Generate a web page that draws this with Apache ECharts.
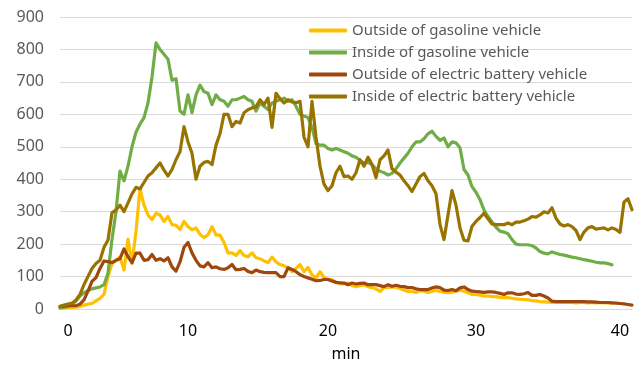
<!DOCTYPE html>
<html>
<head>
<meta charset="utf-8">
<script src="https://cdn.jsdelivr.net/npm/echarts@6/dist/echarts.min.js"></script>
<style>
  html, body { margin: 0; padding: 0; background: #ffffff; }
  #chart { width: 643px; height: 367px; }
</style>
</head>
<body>
<div id="chart"></div>
<script>
// Elapsed time of each logged sample (minutes)
const minutes = [
  -0.67,-0.33,0,0.33,0.67,1,1.33,1.67,2,2.33,2.67,3,
  3.33,3.67,4,4.33,4.67,5,5.33,5.67,6,6.33,6.67,7,
  7.33,7.67,8,8.33,8.67,9,9.33,9.67,10,10.29,10.57,10.86,
  11.14,11.43,11.71,12,12.29,12.57,12.86,13.14,13.43,13.71,14,14.29,
  14.57,14.86,15.14,15.43,15.71,16,16.29,16.57,16.86,17.14,17.43,17.71,
  18,18.29,18.57,18.86,19.14,19.43,19.71,20,20.27,20.54,20.81,21.08,
  21.35,21.62,21.89,22.16,22.43,22.7,22.97,23.24,23.51,23.78,24.05,24.32,
  24.59,24.86,25.14,25.41,25.68,25.95,26.22,26.49,26.76,27.03,27.3,27.57,
  27.84,28.11,28.38,28.65,28.92,29.19,29.46,29.73,30,30.28,30.56,30.83,
  31.11,31.39,31.67,31.94,32.22,32.5,32.78,33.06,33.33,33.61,33.89,34.17,
  34.44,34.72,35,35.28,35.56,35.83,36.11,36.39,36.67,36.94,37.22,37.5,
  37.78,38.06,38.33,38.61,38.89,39.17,39.44,39.72,40,40.28,40.56,40.83
];

const seriesNames = [
  'Outside of gasoline vehicle',
  'Inside of gasoline vehicle',
  'Outside of electric battery vehicle',
  'Inside of electric battery vehicle'
];

const outsideGasoline = [
  3,4,5,5,6,8,12,15,17,25,33,45,
  100,140,150,160,120,215,140,240,370,320,290,275,
  295,290,270,285,260,258,245,270,254,244,250,230,
  220,229,254,228,228,205,173,173,165,180,165,161,
  173,158,155,148,143,160,145,137,133,127,115,125,
  137,115,128,105,96,115,98,91,91,83,77,78,
  80,72,69,72,74,69,66,62,54,66,66,68,
  67,63,58,54,54,51,57,55,51,54,58,54,
  52,50,52,55,58,55,50,45,45,43,40,40,
  38,38,36,35,35,33,31,30,29,28,26,25,
  23,22,21,20,20,20,21,20,20,19,20,20,
  19,20,19,20,19,19,18,null,null,null,null,null
];

const insideGasoline = [
  3,5,8,15,25,40,50,57,62,65,68,75,
  110,215,300,425,395,440,500,545,570,590,635,715,
  820,800,785,770,705,710,610,600,660,605,660,690,
  670,665,630,660,645,640,625,645,645,650,655,645,
  640,610,635,625,615,635,640,645,650,640,645,625,
  600,595,590,560,510,505,505,495,490,495,490,485,
  480,472,468,458,450,452,445,432,425,420,413,418,
  432,450,465,480,500,515,515,525,540,548,532,520,
  527,500,515,512,497,430,413,377,360,337,305,285,
  268,252,240,237,232,214,200,198,198,198,195,188,
  177,172,170,176,172,168,166,163,160,158,155,152,
  150,147,144,142,142,140,136,null,null,null,null,null
];

const outsideElectric = [
  8,9,10,10,10,15,28,55,85,97,125,148,
  146,143,150,155,185,161,143,172,172,150,152,168,
  150,155,148,158,130,117,145,190,205,173,150,133,
  130,143,127,130,124,122,127,137,121,122,125,116,
  112,120,115,113,112,112,112,100,100,127,122,115,
  106,100,96,92,87,88,91,91,86,82,81,80,
  75,80,77,79,80,75,75,75,72,69,75,70,
  73,70,69,66,66,62,60,60,60,65,68,66,
  58,57,60,56,65,68,60,55,54,53,51,53,
  53,51,48,45,50,50,46,45,47,51,42,42,
  45,40,34,24,23,23,23,23,23,23,23,23,
  22,22,21,20,20,20,19,18,17,16,14,12
];

const insideElectric = [
  8,12,15,18,28,45,75,100,125,140,150,190,
  213,297,305,320,300,327,355,375,370,390,410,420,
  435,450,428,410,430,460,485,562,515,480,400,440,
  452,455,445,505,540,600,600,562,578,573,605,614,
  620,623,645,630,650,560,665,648,635,645,638,636,
  640,530,500,640,530,440,385,365,380,420,440,408,
  410,400,420,460,440,468,445,405,460,472,490,432,
  422,413,395,380,362,385,408,418,395,380,355,260,
  214,290,365,320,250,212,210,255,270,282,295,278,
  262,260,260,260,265,260,268,268,272,277,285,283,
  290,300,296,312,280,262,256,260,254,242,214,237,
  250,254,246,248,250,244,250,245,236,330,340,306
];

const yTicks = { min: 0, max: 900, step: 100 };

const palette = ['#FFC000', '#70AD47', '#9E480E', '#997300'];
const values = [outsideGasoline, insideGasoline, outsideElectric, insideElectric];
const fontFamily = '"Noto Sans", "Open Sans", sans-serif';

const chart = echarts.init(document.getElementById('chart'), null, { renderer: 'canvas' });

chart.setOption({
  animation: false,
  backgroundColor: '#ffffff',
  color: palette,
  grid: { left: 60, right: 11, top: 17, bottom: 57, containLabel: false },
  legend: {
    orient: 'vertical',
    left: 304,
    top: 17,
    itemWidth: 38,
    itemHeight: 4,
    itemGap: 5,
    icon: 'roundRect',
    textStyle: { color: '#595959', fontSize: 15, fontFamily: fontFamily, lineHeight: 17 },
    data: seriesNames
  },
  xAxis: {
    type: 'category',
    boundaryGap: false,
    data: minutes.map(String),
    name: 'min',
    nameLocation: 'middle',
    nameGap: 37,
    nameTextStyle: { color: '#000000', fontSize: 16, fontFamily: fontFamily },
    axisLine: { show: true, lineStyle: { color: '#D9D9D9', width: 1 } },
    axisTick: { show: false },
    axisLabel: {
      color: '#000000',
      fontSize: 16,
      fontFamily: fontFamily,
      margin: 14,
      interval: function (idx, val) { return Number(val) % 10 === 0; }
    },
    splitLine: { show: false }
  },
  yAxis: {
    type: 'value',
    min: yTicks.min,
    max: yTicks.max,
    interval: yTicks.step,
    axisLine: { show: false },
    axisTick: { show: false },
    axisLabel: { color: '#595959', fontSize: 16, fontFamily: fontFamily, margin: 16 },
    splitLine: { lineStyle: { color: '#D9D9D9', width: 1 } }
  },
  series: seriesNames.map(function (name, k) {
    return {
      name: name,
      type: 'line',
      data: values[k],
      showSymbol: false,
      symbol: 'none',
      connectNulls: false,
      lineStyle: { width: 3.2, color: palette[k], cap: 'round', join: 'round' },
      itemStyle: { color: palette[k] },
      emphasis: { disabled: true }
    };
  })
});
</script>
</body>
</html>
